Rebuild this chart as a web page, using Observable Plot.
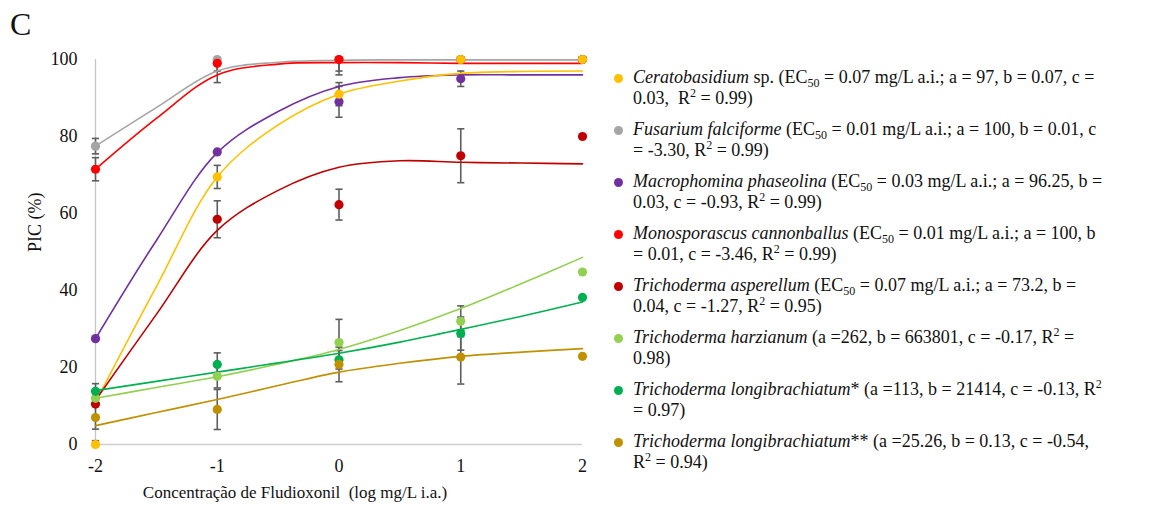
<!DOCTYPE html>
<html>
<head>
<meta charset="utf-8">
<script src="https://cdn.jsdelivr.net/npm/d3@7"></script>
<script src="https://cdn.jsdelivr.net/npm/@observablehq/plot@0.6"></script>
<style>
  html, body { margin: 0; padding: 0; background: #fff; }
  #wrap { position: relative; width: 1154px; height: 506px; overflow: hidden; font-family: "Liberation Serif", "DejaVu Serif", serif; color: #111; }
  #chart { position: absolute; left: 0; top: 0; }
  #panel { position: absolute; left: 10px; top: 4px; font-size: 32px; line-height: 40px; }
  #legend { position: absolute; left: 610px; top: 67px; font-size: 18px; }
  .entry { position: relative; padding-left: 23px; margin-bottom: 10px; }
  .entry .ln { line-height: 21px; height: 21px; white-space: nowrap; }
  .entry .bullet { position: absolute; left: 4px; top: 7px; width: 9px; height: 9px; border-radius: 50%; }
  .entry sub, .entry sup { font-size: 12px; line-height: 0; position: relative; vertical-align: baseline; }
  .entry sub { top: 4px; }
  .entry sup { top: -7px; }
</style>
</head>
<body>
<div id="wrap">
  <div id="chart"></div>
  <div id="panel">C</div>
  <div id="legend"></div>
</div>
<script>
// ---- data ----
const doses = [-2, -1, 0, 1, 2];
const species = ["cerato", "fusarium", "macro", "mono", "asper", "harz", "longi1", "longi2"];
const colors = ["#FFC000", "#A5A5A5", "#7030A0", "#FF0000", "#C00000", "#92D050", "#00B050", "#BF9000"];
const drawOrder = ["fusarium", "mono", "macro", "cerato", "asper", "harz", "longi1", "longi2"];

const picCerato   = [0, 69.5, 91, 100, 100];
const picFusarium = [77.5, 100, 100, 100, 100];
const picMacro    = [27.5, 76, 89, 95, 100];
const picMono     = [71.5, 99, 100, 100, 100];
const picAsper    = [10.5, 58.5, 62.3, 75, 80];
const picHarz     = [12, 17.7, 26.5, 32, 44.8];
const picLongi1   = [13.8, 20.8, 22, 28.8, 38.2];
const picLongi2   = [7, 9.1, 20.8, 22.7, 22.9];

const sdCerato   = [1, 3, 3, 0, 0];
const sdFusarium = [2, 3, 3, 0, 0];
const sdMacro    = [0, 0, 4, 2, 0];
const sdMono     = [3, 5, 4, 0, 0];
const sdAsper    = [0, 4.8, 4, 7, 0];
const sdHarz     = [0, 3, 6, 4, 0];
const sdLongi1   = [2, 3, 2.4, 4.3, 0];
const sdLongi2   = [3, 5.2, 4.5, 7, 0];

const fitDoses = [-2, -1.5, -1, -0.5, 0, 0.5, 1, 1.5, 2];
const fitCerato   = [11, 41, 69.5, 83, 91, 94.4, 96.4, 96.9, 97];
const fitFusarium = [77.5, 87.5, 97, 99.3, 99.8, 99.9, 99.9, 99.9, 99.9];
const fitMacro    = [27.5, 53, 75.8, 86.5, 93, 95.3, 96, 96, 96];
const fitMono     = [71.5, 84.7, 96, 98.8, 99.2, 99.2, 99, 99, 99];
const fitAsper    = [11.5, 33.8, 55.6, 66, 72, 73.7, 73.3, 73.1, 72.9];
const fitHarz     = [12, 14.8, 17.6, 20.9, 24.7, 29.6, 35.3, 41.8, 48.6];
const fitLongi1   = [14, 16.4, 18.8, 21.2, 23.7, 26.6, 29.9, 33.3, 37];
const fitLongi2   = [4.9, 8.3, 11.7, 15.3, 18.8, 21.1, 22.9, 24, 24.9];

const yTicks = [0, 20, 40, 60, 80, 100];
const xTicks = [-2, -1, 0, 1, 2];
const yLabel = "PIC (%)";
const xLabel = "Concentração de Fludioxonil  (log mg/L i.a.)";
const panelLabel = "C";

const legendNames = ["Ceratobasidium", "Fusarium falciforme", "Macrophomina phaseolina", "Monosporascus cannonballus",
  "Trichoderma asperellum", "Trichoderma harzianum", "Trichoderma longibrachiatum", "Trichoderma longibrachiatum"];
const legendLine1 = [
  " sp. (EC<sub>50</sub> = 0.07 mg/L a.i.; a = 97, b = 0.07, c =",
  " (EC<sub>50</sub> = 0.01 mg/L a.i.; a = 100, b = 0.01, c",
  " (EC<sub>50</sub> = 0.03 mg/L a.i.; a = 96.25, b =",
  " (EC<sub>50</sub> = 0.01 mg/L a.i.; a = 100, b",
  " (EC<sub>50</sub> = 0.07 mg/L a.i.; a = 73.2, b =",
  " (a =262, b = 663801, c = -0.17, R<sup>2</sup> =",
  "* (a =113, b = 21414, c = -0.13, R<sup>2</sup>",
  "** (a =25.26, b = 0.13, c = -0.54,"];
const legendLine2 = [
  "0.03,&nbsp; R<sup>2</sup> = 0.99)",
  "= -3.30, R<sup>2</sup> = 0.99)",
  "0.03, c = -0.93, R<sup>2</sup> = 0.99)",
  "= 0.01, c = -3.46, R<sup>2</sup> = 0.99)",
  "0.04, c = -1.27, R<sup>2</sup> = 0.95)",
  "0.98)",
  "= 0.97)",
  "R<sup>2</sup> = 0.94)"];

// ---- build tables ----
const picBy = {cerato: picCerato, fusarium: picFusarium, macro: picMacro, mono: picMono, asper: picAsper, harz: picHarz, longi1: picLongi1, longi2: picLongi2};
const sdBy = {cerato: sdCerato, fusarium: sdFusarium, macro: sdMacro, mono: sdMono, asper: sdAsper, harz: sdHarz, longi1: sdLongi1, longi2: sdLongi2};
const fitBy = {cerato: fitCerato, fusarium: fitFusarium, macro: fitMacro, mono: fitMono, asper: fitAsper, harz: fitHarz, longi1: fitLongi1, longi2: fitLongi2};

const points = [], fits = [], bars = [], caps = [];
for (const s of drawOrder) {
  picBy[s].forEach((v, i) => {
    points.push({s, x: doses[i], y: v});
    const sd = sdBy[s][i];
    if (sd > 0) {
      const lo = Math.max(0, v - sd), hi = Math.min(100, v + sd);
      bars.push({x: doses[i], lo, hi});
      if (v - sd >= 0) caps.push({x: doses[i], y: lo});
      if (v + sd <= 100) caps.push({x: doses[i], y: hi});
    }
  });
  fitBy[s].forEach((v, i) => fits.push({s, x: fitDoses[i], y: v}));
}

const capSymbol = {
  draw(ctx, size) {
    const w = Math.sqrt(size / Math.PI);
    ctx.moveTo(-w, 0);
    ctx.lineTo(w, 0);
  }
};

const chart = Plot.plot({
  width: 600,
  height: 506,
  marginLeft: 95,
  marginRight: 18,
  marginTop: 59,
  marginBottom: 62,
  style: {fontFamily: "'Liberation Serif', 'DejaVu Serif', serif", fontSize: "18px", color: "#111", background: "transparent"},
  x: {domain: [-2, 2], ticks: xTicks, tickFormat: d => String(d), tickSize: 0, tickPadding: 15, label: null},
  y: {domain: [0, 100], ticks: yTicks, tickSize: 0, tickPadding: 18, label: null},
  color: {domain: species, range: colors},
  marks: [
    Plot.ruleY([0], {stroke: "#D0D0D0", strokeWidth: 1.3}),
    Plot.ruleX([-2], {stroke: "#C4C4C4", strokeWidth: 1.3}),
    Plot.ruleX(bars, {x: "x", y1: "lo", y2: "hi", stroke: "#5E5E5E", strokeWidth: 1.6}),
    Plot.dot(caps, {x: "x", y: "y", symbol: capSymbol, r: 3.6, stroke: "#5E5E5E", strokeWidth: 1.6, fill: "none"}),
    Plot.line(fits, {x: "x", y: "y", z: "s", stroke: "s", curve: "catmull-rom", strokeWidth: 1.6}),
    Plot.dot(points, {x: "x", y: "y", fill: "s", r: 4.6}),
    Plot.text([yLabel], {frameAnchor: "left", dx: -60, rotate: -90, fontSize: 18, fill: "#111"}),
    Plot.text([xLabel], {frameAnchor: "bottom", dx: -44, dy: 48, lineAnchor: "middle", fontSize: 17, fill: "#111"})
  ]
});
document.getElementById("chart").appendChild(chart);
document.getElementById("panel").textContent = panelLabel;

const legend = d3.select("#legend");
species.forEach((s, i) => {
  const e = legend.append("div").attr("class", "entry");
  e.append("span").attr("class", "bullet").style("background", colors[i]);
  e.append("div").attr("class", "ln").html("<i>" + legendNames[i] + "</i>" + legendLine1[i]);
  e.append("div").attr("class", "ln").html(legendLine2[i]);
});
</script>
</body>
</html>
